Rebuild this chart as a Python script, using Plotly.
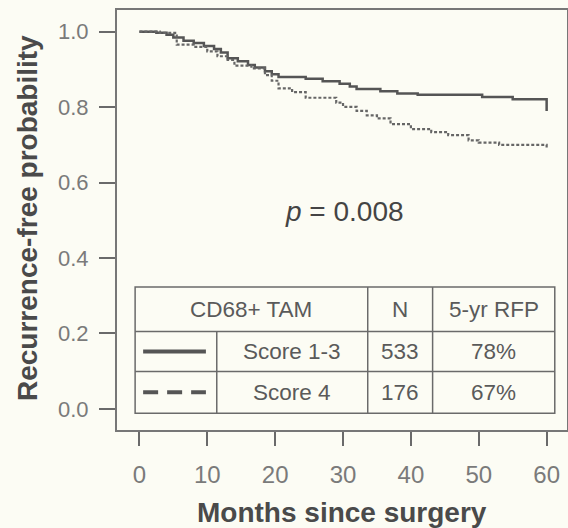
import plotly.graph_objects as go

# Kaplan-Meier step data
months_low = [0, 2.5, 4, 5, 6.5, 8, 9.5, 11, 12, 13, 14.5, 16, 17, 18.5, 19.5, 20.5,
              24.5, 27, 29.5, 31, 32, 35.5, 38, 41, 50.5, 55, 60, 60]
surv_low = [1.0, 0.997, 0.992, 0.985, 0.976, 0.970, 0.962, 0.954, 0.945, 0.930, 0.922,
            0.912, 0.905, 0.895, 0.887, 0.880, 0.875, 0.869, 0.862, 0.855, 0.848, 0.842,
            0.836, 0.833, 0.827, 0.821, 0.821, 0.79]
months_high = [0, 3, 5.5, 8, 10, 11.5, 13, 14, 16.5, 18.5, 19.5, 20.5, 22.5, 24.5, 29, 30,
               32, 33.5, 35, 37, 40, 43, 45.5, 48.5, 50, 53, 60, 60]
surv_high = [1.0, 0.997, 0.966, 0.960, 0.948, 0.935, 0.925, 0.910, 0.903, 0.885, 0.870,
             0.850, 0.840, 0.825, 0.812, 0.801, 0.790, 0.778, 0.770, 0.755, 0.742, 0.734,
             0.726, 0.712, 0.706, 0.700, 0.700, 0.688]

x_ticks = [0, 10, 20, 30, 40, 50, 60]
y_ticks = [0.0, 0.2, 0.4, 0.6, 0.8, 1.0]
y_tick_labels = ["0.0", "0.2", "0.4", "0.6", "0.8", "1.0"]

table_header = ["CD68+ TAM", "N", "5-yr RFP"]
group_names = ["Score 1-3", "Score 4"]
group_n = ["533", "176"]
group_rfp = ["78%", "67%"]
p_text = "<i>p</i> = 0.008"
x_title = "<b>Months since surgery</b>"
y_title = "<b>Recurrence-free probability</b>"

BG = "#fcfcf4"
LINE = "#555555"
GRID = "#6a6a6a"
TXT = "#5a5a5a"
TICK = "#7a7a7a"
FONT = "Liberation Sans, Arial, sans-serif"

fig = go.Figure()
fig.add_trace(go.Scatter(x=months_low, y=surv_low, mode="lines", line_shape="hv",
                         line=dict(color=LINE, width=2.5), showlegend=False))
fig.add_trace(go.Scatter(x=months_high, y=surv_high, mode="lines", line_shape="hv",
                         line=dict(color="#666666", width=2.2, dash="3px,2px"),
                         showlegend=False))

# table geometry (data coordinates)
tx0, tx1 = -0.63, 61.2
cA, cB, cC = 11.4, 33.64, 43.2
ty = [0.323, 0.205, 0.099, -0.0114]
shapes = []
def seg(x0, y0, x1, y1, **kw):
    d = dict(type="line", xref="x", yref="y", x0=x0, y0=y0, x1=x1, y1=y1,
             line=dict(color=GRID, width=1.5))
    d["line"].update(kw)
    shapes.append(d)

shapes.append(dict(type="rect", xref="x", yref="y", x0=tx0, x1=tx1, y0=ty[3], y1=ty[0],
                   line=dict(color=GRID, width=1.5), fillcolor=BG, layer="above"))
seg(tx0, ty[1], tx1, ty[1])
seg(tx0, ty[2], tx1, ty[2])
seg(cA, ty[1], cA, ty[3])
seg(cB, ty[0], cB, ty[3])
seg(cC, ty[0], cC, ty[3])
# legend samples
ym1 = (ty[1] + ty[2]) / 2
ym2 = (ty[2] + ty[3]) / 2
seg(0.55, ym1, 9.8, ym1, color=LINE, width=4)
seg(0.55, ym2, 9.8, ym2, color=LINE, width=4, dash="15px,9px")

ann = []
def txt(x, y, s, size=22.5):
    ann.append(dict(x=x, y=y, xref="x", yref="y", text=s, showarrow=False,
                    font=dict(family=FONT, size=size, color=TXT)))

yh = (ty[0] + ty[1]) / 2
txt((tx0 + cB) / 2, yh, table_header[0])
txt((cB + cC) / 2, yh, table_header[1])
txt((cC + tx1) / 2, yh, table_header[2])
for i, ym in enumerate([ym1, ym2]):
    txt((cA + cB) / 2, ym, group_names[i])
    txt((cB + cC) / 2, ym, group_n[i])
    txt((cC + tx1) / 2, ym, group_rfp[i])
ann.append(dict(x=30.2, y=0.524, xref="x", yref="y", text=p_text, showarrow=False,
                font=dict(family=FONT, size=28, color="#444444")))

W, H = 568, 528
L, R, T, B = 117, 1, 10, 98
pw, ph = W - L - R, H - T - B
# axis titles (pixel centres converted to paper coords)
ann.append(dict(x=0.5, y=(H - B - 512) / ph, xref="paper", yref="paper", text=x_title,
                showarrow=False, xanchor="center", yanchor="middle",
                font=dict(family=FONT, size=28, color="#4a4a4a")))
ann.append(dict(x=(27 - L) / pw, y=(H - B - 218) / ph, xref="paper", yref="paper",
                text=y_title, showarrow=False, textangle=-90, xanchor="center",
                yanchor="middle", font=dict(family=FONT, size=28, color="#4a4a4a")))

fig.update_layout(
    width=W, height=H,
    margin=dict(l=L, r=R, t=T, b=B),
    paper_bgcolor=BG, plot_bgcolor=BG,
    shapes=shapes, annotations=ann,
    font=dict(family=FONT, color=TXT),
    xaxis=dict(range=[-3.3, 63.0], tickvals=x_ticks, ticks="outside", ticklen=14,
               tickwidth=1.5, tickcolor=GRID, showgrid=False, zeroline=False,
               showline=True, mirror=True, linecolor="#777777", linewidth=2,
               automargin=False, ticklabelstandoff=8,
               tickfont=dict(size=24, color=TICK, family=FONT)),
    yaxis=dict(range=[-0.056, 1.0576], tickvals=y_ticks,
               ticktext=[s + "\u00a0" for s in y_tick_labels],
               ticks="outside", ticklen=16, tickwidth=1.5, tickcolor=GRID,
               showgrid=False, zeroline=False, showline=True, mirror=True,
               linecolor="#777777", linewidth=2, automargin=False,
               tickfont=dict(size=22, color=TICK, family=FONT)),
)

fig.write_html("out.html", config={"displayModeBar": False})
with open("out.html", encoding="utf-8") as f:
    html = f.read()
html = html.replace("<body>", f"<body style=\"margin:0;background:{BG}\">", 1)
with open("out.html", "w", encoding="utf-8") as f:
    f.write(html)
